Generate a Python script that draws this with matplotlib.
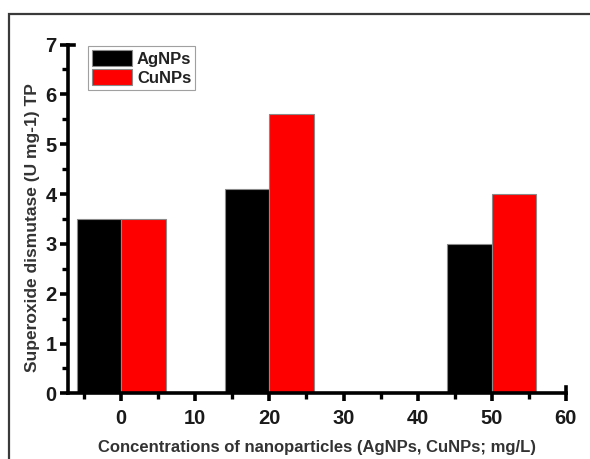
import matplotlib
matplotlib.use("Agg")
from matplotlib import pyplot as plt
from matplotlib.patches import Rectangle
from matplotlib.ticker import MultipleLocator

# data
concentrations = [0, 20, 50]
agnps = [3.5, 4.1, 3.0]
cunps = [3.5, 5.6, 4.0]
labels = ["AgNPs", "CuNPs"]

plt.rcParams['font.family'] = ['Liberation Sans', 'DejaVu Sans']
plt.rcParams['font.weight'] = 'bold'

fig = plt.figure(figsize=(5.9, 4.59), dpi=100)
ax = fig.add_axes([0.115, 0.143, 0.844, 0.760])

w = 6
ax.bar([c - w / 2 for c in concentrations], agnps, width=w, color="black",
       edgecolor="#8a8a8a", linewidth=0.8, label=labels[0])
ax.bar([c + w / 2 for c in concentrations], cunps, width=w, color="#ff0000",
       edgecolor="#8a8a8a", linewidth=0.8, label=labels[1])

ax.set_xlim(-7.2, 60)
ax.set_ylim(0, 7)
ax.xaxis.set_major_locator(MultipleLocator(10))
ax.xaxis.set_minor_locator(MultipleLocator(5))
ax.yaxis.set_major_locator(MultipleLocator(1))
ax.yaxis.set_minor_locator(MultipleLocator(0.5))

for s in ["top", "right"]:
    ax.spines[s].set_visible(False)
for s in ["left", "bottom"]:
    ax.spines[s].set_linewidth(2.6)
ax.tick_params(which="major", direction="out", length=6, width=2.6, labelsize=14.5,
               colors="black")
ax.tick_params(which="minor", direction="out", length=4, width=2.4)
ax.tick_params(axis="x", which="major", pad=5)
ax.tick_params(axis="y", which="major", pad=2)
for t in ax.get_xticklabels() + ax.get_yticklabels():
    t.set_fontweight("bold")
    t.set_color("#1a1a1a")

# end caps of the axis lines
ax.plot([0, 0.012], [1, 1], color="black", lw=2.6, transform=ax.transAxes, clip_on=False)
ax.plot([1, 1], [0, 0.018], color="black", lw=2.6, transform=ax.transAxes, clip_on=False)

ax.set_xlabel("Concentrations of nanoparticles (AgNPs, CuNPs; mg/L)", fontsize=12,
              fontweight="bold", color="#333333", labelpad=9)
ax.set_ylabel("Superoxide dismutase (U mg-1) TP", fontsize=12.5,
              fontweight="bold", color="#333333")
ax.yaxis.set_label_coords(-0.056, 0.476)

leg = ax.legend(loc="upper left", bbox_to_anchor=(0.04, 0.995), frameon=True, fancybox=False,
                fontsize=12, handlelength=2.4, handleheight=1.05, handletextpad=0.3,
                borderpad=0.25, labelspacing=0.15, borderaxespad=0)
leg.get_frame().set_edgecolor("#888888")
leg.get_frame().set_linewidth(0.8)
for t in leg.get_texts():
    t.set_color("#222222")
    t.set_fontweight("bold")

# outer frame of the picture
fig.patches.append(Rectangle((9 / 590, -0.05), 1.0, 1 - 14 / 459 + 0.05, transform=fig.transFigure,
                             fill=False, edgecolor="#3a3a3a", linewidth=1.6))

fig.savefig("out.png", dpi=100)
